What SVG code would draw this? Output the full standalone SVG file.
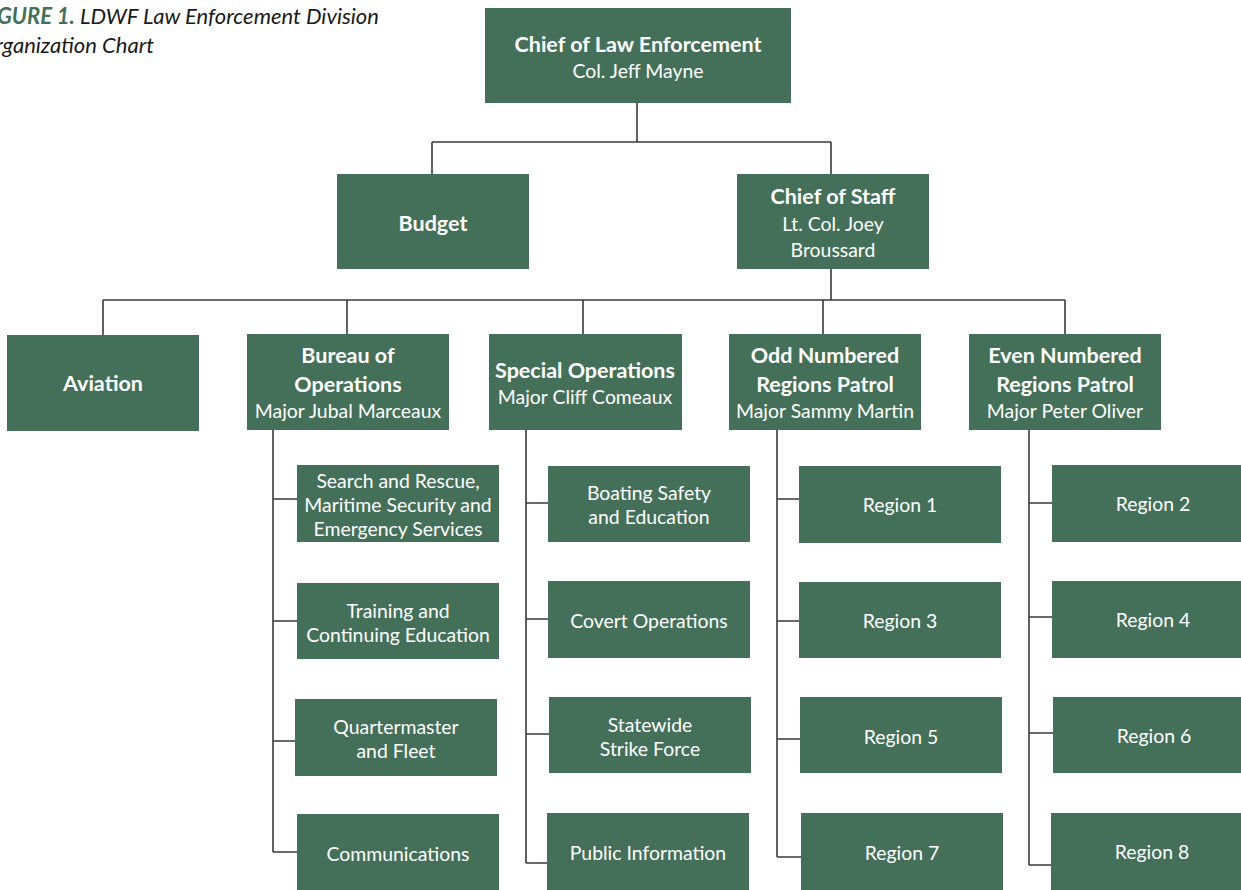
<svg xmlns="http://www.w3.org/2000/svg" width="1241" height="890" viewBox="0 0 1241 890">
<style>
.box{fill:#44705a}
.t{font-family:Lato,"Open Sans","Liberation Sans",sans-serif;fill:#ffffff;text-anchor:middle;font-size:19.4px}
.b{font-weight:bold;font-size:21.5px}
.ln{stroke:#3a3a3a;stroke-width:1.6;fill:none}
.cap{font-family:Lato,"Liberation Sans",sans-serif;font-style:italic;font-size:22px;fill:#1a1a1a}
.capg{fill:#44705a;font-weight:bold}
</style>
<rect width="1241" height="890" fill="#ffffff"/>
<g id="caption">
<text class="cap" x="-21" y="24"><tspan class="capg">FIGURE 1.</tspan> LDWF Law Enforcement Division</text>
<text class="cap" x="-21" y="53">Organization Chart</text>
</g>
<g id="connectors" class="ln">
<path d="M637 103V142M432 142H831M432 142V174M831 142V174"/>
<path d="M831 269V300M103 300H1065M103 300V335M347 300V334M583 300V334M823 300V334M1065 300V334"/>
<path d="M273 430V852M273 499H297M273 621H297M273 741H295M273 852H297"/>
<path d="M526 430V863M526 503H548M526 619H548M526 734H549M526 863H547"/>
<path d="M777 430V857M777 499H799M777 621H799M777 739H800M777 857H801"/>
<path d="M1029 430V865M1029 503H1052M1029 617H1052M1029 733H1053M1029 865H1051"/>
</g>
<g id="chief"><rect class="box" x="485" y="8" width="306" height="95"/><text class="t b" x="638" y="52">Chief of Law Enforcement</text><text class="t" x="638" y="78">Col. Jeff Mayne</text></g>
<g id="budget"><rect class="box" x="337" y="174" width="192" height="95"/><text class="t b" x="433" y="231">Budget</text></g>
<g id="staff"><rect class="box" x="737" y="174" width="192" height="95"/><text class="t b" x="833" y="204">Chief of Staff</text><text class="t" x="833" y="231">Lt. Col. Joey</text><text class="t" x="833" y="257">Broussard</text></g>
<g id="aviation"><rect class="box" x="7" y="335" width="192" height="96"/><text class="t b" x="103" y="391">Aviation</text></g>
<g id="bureau"><rect class="box" x="247" y="334" width="202" height="96"/><text class="t b" x="348" y="363">Bureau of</text><text class="t b" x="348" y="392">Operations</text><text class="t" x="348" y="418">Major Jubal Marceaux</text></g>
<g id="specops"><rect class="box" x="489" y="334" width="193" height="96"/><text class="t b" x="585" y="378">Special Operations</text><text class="t" x="585" y="404">Major Cliff Comeaux</text></g>
<g id="odd"><rect class="box" x="729" y="334" width="192" height="96"/><text class="t b" x="825" y="363">Odd Numbered</text><text class="t b" x="825" y="392">Regions Patrol</text><text class="t" x="825" y="418">Major Sammy Martin</text></g>
<g id="even"><rect class="box" x="969" y="334" width="192" height="96"/><text class="t b" x="1065" y="363">Even Numbered</text><text class="t b" x="1065" y="392">Regions Patrol</text><text class="t" x="1065" y="418">Major Peter Oliver</text></g>
<g id="search"><rect class="box" x="297" y="465" width="202" height="77"/><text class="t" x="398" y="488">Search and Rescue,</text><text class="t" x="398" y="512">Maritime Security and</text><text class="t" x="398" y="536">Emergency Services</text></g>
<g id="training"><rect class="box" x="297" y="583" width="202" height="76"/><text class="t" x="398" y="618">Training and</text><text class="t" x="398" y="642">Continuing Education</text></g>
<g id="quartermaster"><rect class="box" x="295" y="699" width="202" height="77"/><text class="t" x="396" y="734">Quartermaster</text><text class="t" x="396" y="758">and Fleet</text></g>
<g id="communications"><rect class="box" x="297" y="814" width="202" height="76"/><text class="t" x="398" y="861">Communications</text></g>
<g id="boating"><rect class="box" x="548" y="466" width="202" height="76"/><text class="t" x="649" y="500">Boating Safety</text><text class="t" x="649" y="524">and Education</text></g>
<g id="covert"><rect class="box" x="548" y="581" width="202" height="77"/><text class="t" x="649" y="628">Covert Operations</text></g>
<g id="statewide"><rect class="box" x="549" y="697" width="202" height="76"/><text class="t" x="650" y="732">Statewide</text><text class="t" x="650" y="756">Strike Force</text></g>
<g id="publicinfo"><rect class="box" x="547" y="813" width="202" height="77"/><text class="t" x="648" y="860">Public Information</text></g>
<g id="region1"><rect class="box" x="799" y="466" width="202" height="77"/><text class="t" x="900" y="512">Region 1</text></g>
<g id="region3"><rect class="box" x="799" y="582" width="202" height="76"/><text class="t" x="900" y="628">Region 3</text></g>
<g id="region5"><rect class="box" x="800" y="697" width="202" height="76"/><text class="t" x="901" y="744">Region 5</text></g>
<g id="region7"><rect class="box" x="801" y="813" width="202" height="77"/><text class="t" x="902" y="860">Region 7</text></g>
<g id="region2"><rect class="box" x="1052" y="465" width="189" height="77"/><text class="t" x="1153" y="511">Region 2</text></g>
<g id="region4"><rect class="box" x="1052" y="581" width="189" height="77"/><text class="t" x="1153" y="627">Region 4</text></g>
<g id="region6"><rect class="box" x="1053" y="697" width="188" height="76"/><text class="t" x="1154" y="743">Region 6</text></g>
<g id="region8"><rect class="box" x="1051" y="813" width="190" height="77"/><text class="t" x="1152" y="859">Region 8</text></g>
</svg>
